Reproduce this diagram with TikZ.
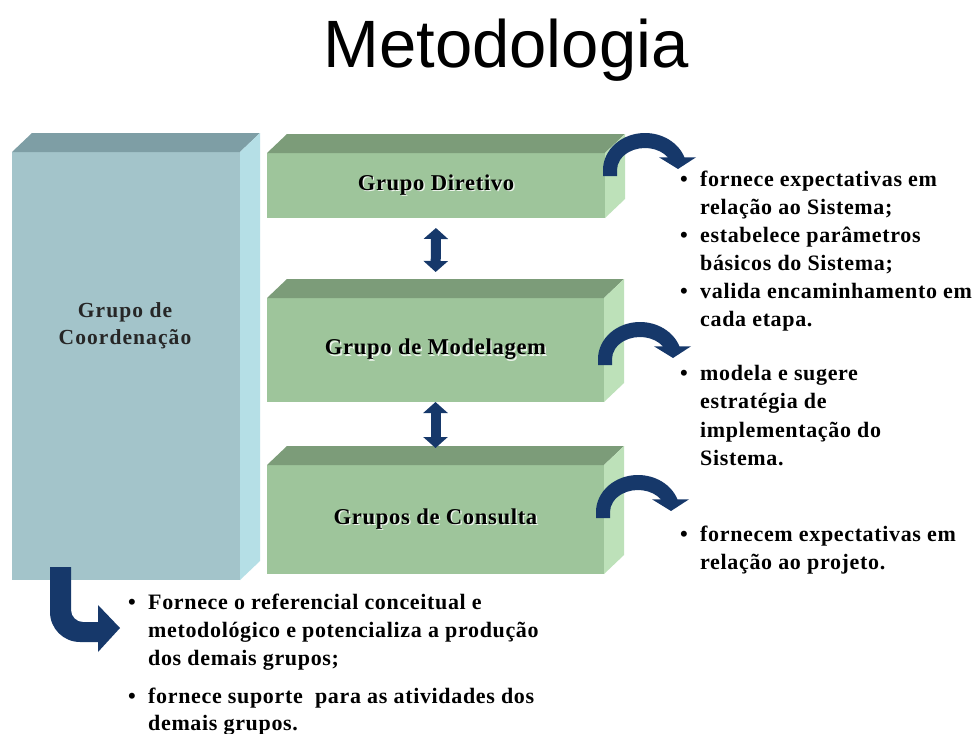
\documentclass[tikz,border=0pt]{standalone}
\usepackage{fontspec}
\setmainfont{Liberation Serif}
\newfontfamily\titlefont{Liberation Sans}
\newfontfamily\txtfont[LetterSpace=3]{Liberation Serif}
\newfontfamily\lblfont[LetterSpace=5]{Liberation Serif}
\usetikzlibrary{arrows.meta}
\definecolor{navy}{HTML}{16386A}
\definecolor{gfront}{HTML}{9EC59B}
\definecolor{gtop}{HTML}{7C9C79}
\definecolor{gside}{HTML}{BDE1B9}
\definecolor{bfront}{HTML}{A3C4CA}
\definecolor{btop}{HTML}{7E9EA5}
\definecolor{bside}{HTML}{B5DFE6}
\newcommand\shadowed[1]{\makebox[0pt][l]{\hspace{1.4pt}\raisebox{-1.4pt}{\color{white!80!gfront}#1}}#1}
\newcommand\cuboid[3]{%
  \fill[#2] (#1.north west) -- ++(20,-19) -- ([shift={(20,-19)}]#1.north east) -- (#1.north east) -- cycle;
  \fill[#3] (#1.north east) -- ++(20,-19) -- ([shift={(20,-19)}]#1.south east) -- (#1.south east) -- cycle;}
\tikzset{
  face/.style={inner sep=0pt, outer sep=0pt, anchor=north west},
  gbox/.style={face, fill=gfront, font=\txtfont\bfseries\fontsize{22.6}{26}\selectfont},
  bbox/.style={face, fill=bfront},
  txt/.style={anchor=base west, inner sep=0pt, font=\txtfont\bfseries\fontsize{22}{26}\selectfont},
  lbl/.style={inner sep=0pt, align=center, text=black!85, font=\lblfont\bfseries\fontsize{21.5}{27}\selectfont},
  dblarr/.style={draw=navy, line width=10pt, {Triangle[width=24pt,length=11pt]}-{Triangle[width=24pt,length=11pt]}},
  curvarr/.pic={
    \fill[navy] (-42,6) -- (180:42 and 37) arc[start angle=180,end angle=340,x radius=42,y radius=37]
      -- (51,-12.7) -- (33,-1) -- (14,-12.7) -- (324.8:28 and 22)
      arc[start angle=324.8,end angle=180,x radius=28,y radius=22] -- (-28,6) -- cycle;
  }
}
\begin{document}
\begin{tikzpicture}[x=1pt,y=-1pt]
\useasboundingbox[fill=white] (0,0) rectangle (979,733);
% title
\node (title) [font=\titlefont\fontsize{67}{67}\selectfont, anchor=base, inner sep=0pt] at (506,68) {Metodologia};
% coordination block
\node (coord) [bbox, minimum width=228, minimum height=428] at (12,152) {};
\cuboid{coord}{btop}{bside}
\node (coordlbl) [lbl] at (125,326) {Grupo de\\Coordenação};
% green blocks
\node (dir) [gbox, minimum width=338, minimum height=65] at (267,153) {\shadowed{Grupo Diretivo}};
\cuboid{dir}{gtop}{gside}
\node (mod) [gbox, minimum width=337, minimum height=104] at (267,298) {\shadowed{Grupo de Modelagem}};
\cuboid{mod}{gtop}{gside}
\node (con) [gbox, minimum width=337, minimum height=109] at (267,465) {\shadowed{Grupos de Consulta}};
\cuboid{con}{gtop}{gside}
% double arrows
\draw[dblarr, shorten <=10pt, shorten >=26pt] (dir.south) -- (mod.north);
\draw[dblarr, shorten <=0pt, shorten >=17pt] (mod.south) -- (con.north);
% curved arrows
\pic (a1) at (645,170) {curvarr};
\pic (a2) at (640,359) {curvarr};
\pic (a3) at (638,512) {curvarr};
% bent arrow
\fill[navy] (50,567) -- (50,612) arc[start angle=180,end angle=90,radius=30] -- (98,642) -- (98,652)
  -- (120,628) -- (98,605) -- (98,622) -- (83,622) arc[start angle=90,end angle=180,radius=12] -- (71,567) -- cycle;
% right texts
\node (r1) [txt] at (680,186) {\makebox[20pt][l]{•}fornece expectativas em};
\node (r2) [txt] at (700,214) {relação ao Sistema;};
\node (r3) [txt] at (680,242) {\makebox[20pt][l]{•}estabelece parâmetros};
\node (r4) [txt] at (700,270) {básicos do Sistema;};
\node (r5) [txt] at (680,298) {\makebox[20pt][l]{•}valida encaminhamento em};
\node (r6) [txt] at (700,326) {cada etapa.};
\node (r7) [txt] at (680,380) {\makebox[20pt][l]{•}modela e sugere};
\node (r8) [txt] at (700,408) {estratégia de};
\node (r9) [txt] at (700,437) {implementação do};
\node (r10) [txt] at (700,465) {Sistema.};
\node (r11) [txt] at (680,541) {\makebox[20pt][l]{•}fornecem expectativas em};
\node (r12) [txt] at (700,569) {relação ao projeto.};
% bottom texts
\node (b1) [txt] at (128,609) {\makebox[20pt][l]{•}Fornece o referencial conceitual e};
\node (b2) [txt] at (148,637) {metodológico e potencializa a produção};
\node (b3) [txt] at (148,665) {dos demais grupos;};
\node (b4) [txt] at (128,703) {\makebox[20pt][l]{•}fornece suporte~ para as atividades dos};
\node (b5) [txt] at (148,730) {demais grupos.};
\end{tikzpicture}
\end{document}
